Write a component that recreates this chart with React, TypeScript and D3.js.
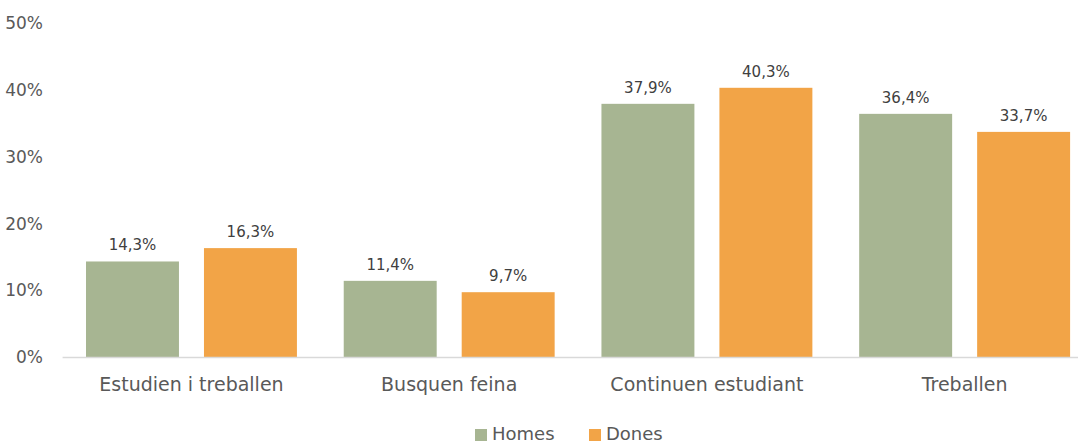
import React from "react";
import * as d3 from "d3";

const categories = ["Estudien i treballen", "Busquen feina", "Continuen estudiant", "Treballen"];
const homes = [14.3, 11.4, 37.9, 36.4];
const dones = [16.3, 9.7, 40.3, 33.7];
const seriesNames = ["Homes", "Dones"];
const yTicks = [0, 10, 20, 30, 40, 50];

const W = 1078;
const H = 443;
const colors = ["#A7B592", "#F2A447"];
const textColor = "#595959";
const font = "'DejaVu Sans', Verdana, sans-serif";

export default function App() {
  const x0 = d3.scaleBand<string>().domain(categories).range([62.6, 1093.5]).paddingInner(0).paddingOuter(0);
  const x1 = d3.scaleBand<string>().domain(seriesNames).range([23.4, x0.bandwidth() - 23.4]).paddingInner(0.212);
  const y = d3.scaleLinear().domain([0, 50]).range([357, 23]);
  const series = [homes, dones];
  const fmt = (v: number) => v.toFixed(1).replace(".", ",") + "%";

  return (
    <svg width={W} height={H} style={{ position: "absolute", left: 0, top: 0, background: "#fff" }} fontFamily={font}>
      {yTicks.map((t) => (
        <text key={t} x={43} y={y(t)} dy="0.36em" textAnchor="end" fontSize={17} fill={textColor}>
          {t}%
        </text>
      ))}
      {categories.map((c, i) => (
        <g key={c}>
          {seriesNames.map((s, j) => {
            const v = series[j][i];
            const bx = x0(c)! + x1(s)!;
            return (
              <g key={s}>
                <rect x={bx} y={y(v)} width={x1.bandwidth()} height={y(0) - y(v)} fill={colors[j]} />
                <text x={bx + x1.bandwidth() / 2} y={y(v) - 11} textAnchor="middle" fontSize={15} fill="#404040">
                  {fmt(v)}
                </text>
              </g>
            );
          })}
          <text x={x0(c)! + x0.bandwidth() / 2} y={391} textAnchor="middle" fontSize={19} fill={textColor}>
            {c}
          </text>
        </g>
      ))}
      <line x1={62.6} x2={1078} y1={357.5} y2={357.5} stroke="#D9D9D9" strokeWidth={1.5} />
      {seriesNames.map((s, j) => {
        const lx = [475, 589][j];
        return (
          <g key={s}>
            <rect x={lx} y={429} width={12} height={12} fill={colors[j]} />
            <text x={lx + 17} y={440} fontSize={18} fill={textColor}>
              {s}
            </text>
          </g>
        );
      })}
    </svg>
  );
}
